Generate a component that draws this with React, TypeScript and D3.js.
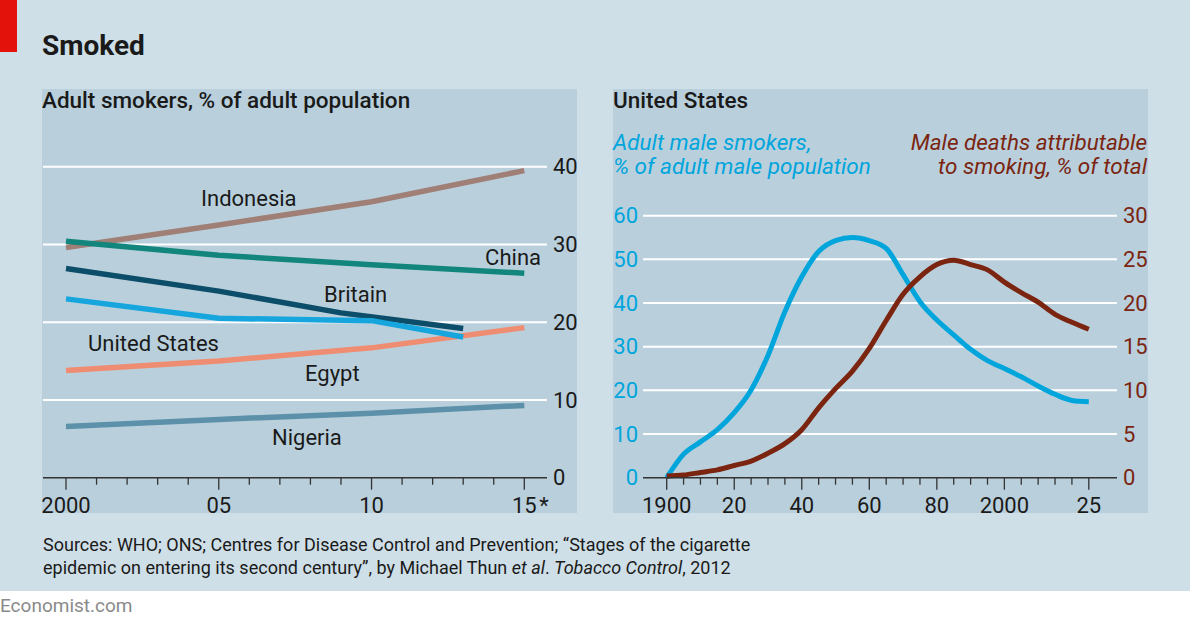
import React from 'react';
import * as d3 from 'd3';

// Left panel: adult smokers, % of adult population
const leftYears = [2000, 2005, 2010, 2015];
const indonesia = [29.6, 32.5, 35.5, 39.5];
const china = [30.4, 28.6, 27.4, 26.3];
const egypt = [13.8, 15.0, 16.7, 19.3];
const nigeria = [6.6, 7.5, 8.3, 9.3];
const britainYears = [2000, 2005, 2009, 2013];
const britain = [26.9, 24.0, 21.2, 19.2];
const usYears = [2000, 2005, 2010, 2013];
const unitedStates = [23.0, 20.5, 20.2, 18.1];
const leftYTicks = [0, 10, 20, 30, 40];
const leftXLabels = ['2000', '05', '10', '15'];

// Right panel: United States, 1900-2025
const rightYears = [1900, 1905, 1910, 1915, 1920, 1925, 1930, 1935, 1940, 1945, 1950, 1955, 1960,
  1965, 1970, 1975, 1980, 1985, 1990, 1995, 2000, 2005, 2010, 2015, 2020, 2025];
const maleSmokers = [0, 5.4, 8.2, 11, 14.9, 20.1, 28, 38, 46, 51.8, 54.3, 55, 54.3,
  52.5, 46.5, 40.3, 36.1, 32.7, 29.4, 26.8, 25, 23.1, 21, 19.1, 17.7, 17.4];
const maleDeaths = [0.2, 0.3, 0.6, 0.9, 1.4, 1.9, 2.8, 3.9, 5.5, 8.0, 10.2, 12.2, 14.8,
  18.0, 21.0, 23.0, 24.4, 24.9, 24.4, 23.8, 22.4, 21.2, 20.1, 18.7, 17.8, 17.0];
const rightYTicksL = [0, 10, 20, 30, 40, 50, 60];
const rightYTicksR = [0, 5, 10, 15, 20, 25, 30];
const rightXTicks = [1900, 1920, 1940, 1960, 1980, 2000, 2025];
const rightXLabels = ['1900', '20', '40', '60', '80', '2000', '25'];

const FONT = 'Roboto, "Noto Sans", sans-serif';
const BG = '#cfdfe7';
const PANEL = '#b9d0dc';
const INK = '#1a1a1a';
const BLUE = '#00a5dc';
const BROWN = '#7b2511';
const FS = 22;

type Series = { name: string; years: number[]; values: number[]; color: string };

const leftSeries: Series[] = [
  { name: 'Indonesia', years: leftYears, values: indonesia, color: '#a07f76' },
  { name: 'China', years: leftYears, values: china, color: '#12867c' },
  { name: 'Egypt', years: leftYears, values: egypt, color: '#ef8d73' },
  { name: 'Nigeria', years: leftYears, values: nigeria, color: '#5c91a9' },
  { name: 'Britain', years: britainYears, values: britain, color: '#0c4e6a' },
  { name: 'United States', years: usYears, values: unitedStates, color: '#16a6dd' },
];

const leftLabels = [
  { text: 'Indonesia', x: 201, y: 206, anchor: 'start' },
  { text: 'China', x: 541, y: 265, anchor: 'end' },
  { text: 'Britain', x: 324, y: 302, anchor: 'start' },
  { text: 'United States', x: 88, y: 351, anchor: 'start' },
  { text: 'Egypt', x: 305, y: 381, anchor: 'start' },
  { text: 'Nigeria', x: 272, y: 445, anchor: 'start' },
];

const App: React.FC = () => {
  // left scales
  const lx = d3.scaleLinear().domain([2000, 2015]).range([66, 524.3]);
  const ly = d3.scaleLinear().domain([0, 40]).range([477.7, 166.7]);
  const lline = (s: Series) =>
    d3.line<number>()
      .x((_, i) => lx(s.years[i]))
      .y((d) => ly(d))
      .curve(d3.curveLinear)(s.values) || '';

  // right scales
  const rx = d3.scaleLinear().domain([1900, 2025]).range([666.7, 1088.8]);
  const ryL = d3.scaleLinear().domain([0, 60]).range([477.7, 215.7]);
  const ryR = d3.scaleLinear().domain([0, 30]).range([477.7, 215.7]);
  const smokersPath = d3.line<number>()
    .x((_, i) => rx(rightYears[i]))
    .y((d) => ryL(d))
    .curve(d3.curveMonotoneX)(maleSmokers) || '';
  const deathsPath = d3.line<number>()
    .x((_, i) => rx(rightYears[i]))
    .y((d) => ryR(d))
    .curve(d3.curveMonotoneX)(maleDeaths) || '';

  const leftMinor = d3.range(2000, 2016);
  const rightMinor = d3.range(1900, 2026, 5);

  return (
    <svg width={1190} height={624} style={{ position: 'absolute', left: 0, top: 0, display: 'block' }}
      fontFamily={FONT}>
      <rect x={0} y={0} width={1190} height={591} fill={BG} />
      <rect x={0} y={591} width={1190} height={33} fill="#ffffff" />
      <rect x={0} y={0} width={17} height={52} fill="#e3120b" />
      <text x={42} y={55} fontSize={28} fontWeight={700} fill={INK}>Smoked</text>

      {/* Left panel */}
      <rect x={42} y={89} width={535} height={424} fill={PANEL} />
      <text x={42} y={108} fontSize={22.5} fontWeight={500} fill={INK}>Adult smokers, % of adult population</text>
      {leftYTicks.filter((t) => t > 0).map((t) => (
        <line key={t} x1={43} x2={547} y1={ly(t)} y2={ly(t)} stroke="#ffffff" strokeWidth={2} />
      ))}
      {leftYTicks.map((t) => (
        <text key={t} x={553} y={ly(t)} dy="0.35em" fontSize={FS} fill={INK}>{t}</text>
      ))}
      {leftSeries.map((s) => (
        <path key={s.name} d={lline(s)} fill="none" stroke={s.color} strokeWidth={5.5}
          strokeLinejoin="round" strokeLinecap="butt" />
      ))}
      <line x1={43} x2={547} y1={ly(0)} y2={ly(0)} stroke="#333" strokeWidth={1.5} />
      {leftMinor.map((yr) => (
        <line key={yr} x1={lx(yr)} x2={lx(yr)} y1={ly(0)} y2={ly(0) + (yr % 5 === 0 ? 12 : 7)}
          stroke="#333" strokeWidth={1.3} />
      ))}
      {leftYears.map((yr, i) => (
        <text key={yr} x={lx(yr)} y={513} fontSize={FS} fill={INK} textAnchor="middle">{leftXLabels[i]}</text>
      ))}
      <text x={lx(2015) + 15} y={513} fontSize={FS} fill={INK}>*</text>
      {leftLabels.map((l) => (
        <text key={l.text} x={l.x} y={l.y} fontSize={FS} fill={INK}
          textAnchor={l.anchor as 'start' | 'end'}>{l.text}</text>
      ))}

      {/* Right panel */}
      <rect x={613} y={89} width={535} height={424} fill={PANEL} />
      <text x={613} y={108} fontSize={22.5} fontWeight={500} fill={INK}>United States</text>
      <text x={613} y={150} fontSize={22.5} fontStyle="italic" fill={BLUE}>
        <tspan x={613}>Adult male smokers,</tspan>
        <tspan x={613} dy={24}>% of adult male population</tspan>
      </text>
      <text x={1147} y={150} fontSize={22.5} fontStyle="italic" fill={BROWN} textAnchor="end">
        <tspan x={1147}>Male deaths attributable</tspan>
        <tspan x={1147} dy={24}>to smoking, % of total</tspan>
      </text>
      {rightYTicksL.filter((t) => t > 0).map((t) => (
        <line key={t} x1={643} x2={1117} y1={ryL(t)} y2={ryL(t)} stroke="#ffffff" strokeWidth={2} />
      ))}
      {rightYTicksL.map((t) => (
        <text key={t} x={638} y={ryL(t)} dy="0.35em" fontSize={FS} fill={BLUE} textAnchor="end">{t}</text>
      ))}
      {rightYTicksR.map((t) => (
        <text key={t} x={1123} y={ryR(t)} dy="0.35em" fontSize={FS} fill={BROWN}>{t}</text>
      ))}
      <path d={smokersPath} fill="none" stroke={BLUE} strokeWidth={5} strokeLinejoin="round" />
      <path d={deathsPath} fill="none" stroke={BROWN} strokeWidth={5} strokeLinejoin="round" />
      <line x1={643} x2={1117} y1={ryL(0)} y2={ryL(0)} stroke="#333" strokeWidth={1.5} />
      {rightMinor.map((yr) => (
        <line key={yr} x1={rx(yr)} x2={rx(yr)} y1={ryL(0)} y2={ryL(0) + (rightXTicks.includes(yr) ? 12 : 7)}
          stroke="#333" strokeWidth={1.3} />
      ))}
      {rightXTicks.map((yr, i) => (
        <text key={yr} x={rx(yr)} y={513} fontSize={FS} fill={INK} textAnchor="middle">{rightXLabels[i]}</text>
      ))}

      {/* Footer */}
      <text x={43} y={551} fontSize={18} fill={INK}>
        Sources: WHO; ONS; Centres for Disease Control and Prevention; “Stages of the cigarette
      </text>
      <text x={43} y={574} fontSize={18} fill={INK}>
        epidemic on entering its second century”, by Michael Thun <tspan fontStyle="italic">et al</tspan>. <tspan fontStyle="italic">Tobacco Control</tspan>, 2012
      </text>
      <text x={0} y={612} fontSize={19} fill="#8a8a8a">Economist.com</text>
    </svg>
  );
};

export default App;
